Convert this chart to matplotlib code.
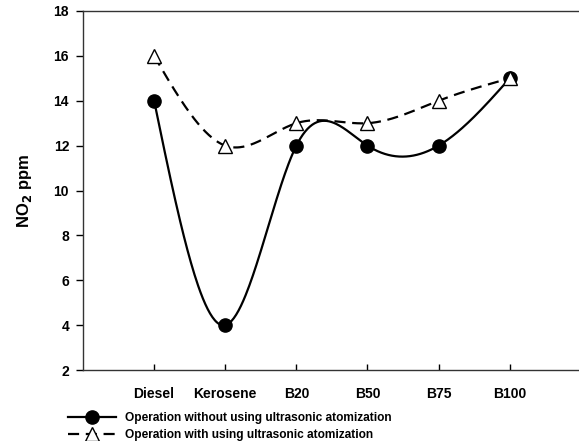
import numpy as np
import matplotlib
matplotlib.use("Agg")
import matplotlib.pyplot as plt
from matplotlib.lines import Line2D

plt.rcParams['font.family'] = ['Liberation Sans', 'DejaVu Sans']
plt.rcParams['font.weight'] = 'bold'

fuels = ["Diesel", "Kerosene", "B20", "B50", "B75", "B100"]
no2_without = [14, 4, 12, 12, 12, 15]
no2_with = [16, 12, 13, 13, 14, 15]
y_ticks = [2, 4, 6, 8, 10, 12, 14, 16, 18]


def natural_spline(x, y, n=300):
    x = np.asarray(x, float)
    y = np.asarray(y, float)
    k = len(x)
    h = np.diff(x)
    A = np.zeros((k, k))
    b = np.zeros(k)
    A[0, 0] = A[-1, -1] = 1
    for i in range(1, k - 1):
        A[i, i - 1] = h[i - 1]
        A[i, i] = 2 * (h[i - 1] + h[i])
        A[i, i + 1] = h[i]
        b[i] = 6 * ((y[i + 1] - y[i]) / h[i] - (y[i] - y[i - 1]) / h[i - 1])
    M = np.linalg.solve(A, b)
    xs = np.linspace(x[0], x[-1], n)
    idx = np.clip(np.searchsorted(x, xs) - 1, 0, k - 2)
    x0, x1 = x[idx], x[idx + 1]
    hh = x1 - x0
    ys = (M[idx] * (x1 - xs) ** 3 / (6 * hh) + M[idx + 1] * (xs - x0) ** 3 / (6 * hh)
          + (y[idx] / hh - M[idx] * hh / 6) * (x1 - xs)
          + (y[idx + 1] / hh - M[idx + 1] * hh / 6) * (xs - x0))
    return xs, ys


fig = plt.figure(figsize=(5.79, 4.41), dpi=100)
ax = fig.add_axes([83 / 579, 1 - 370 / 441, (583 - 83) / 579, (370 - 11) / 441])

pos = np.arange(1, len(fuels) + 1)
dash = (0, (5, 3))

xs, ys = natural_spline(pos, no2_without)
ax.plot(xs, ys, color='black', lw=1.6, zorder=2)
ax.plot(pos, no2_without, 'o', color='black', ms=9.5, zorder=3)

xs, ys = natural_spline(pos, no2_with)
ax.plot(xs, ys, color='black', lw=1.6, ls=dash, zorder=2)
ax.plot(pos, no2_with, '^', mfc='white', mec='black', mew=1.0, ms=10, zorder=4)

ax.set_xlim(0, 7.03)
ax.set_ylim(2, 18)
ax.set_yticks(y_ticks)
ax.set_xticks(pos)
ax.set_xticklabels(fuels)
ax.tick_params(axis='x', direction='in', length=4, width=1, labelsize=10, pad=12)
ax.tick_params(axis='y', direction='out', length=5, width=1, labelsize=10, pad=5)
for sp in ax.spines.values():
    sp.set_linewidth(1.0)
    sp.set_color('#333333')

ax.set_ylabel("NO$_2$ ppm", fontsize=12, fontweight='bold', labelpad=14)

handles = [
    Line2D([], [], color='black', lw=1.6, marker='o', ms=9.5),
    Line2D([], [], color='black', lw=1.6, ls=dash, marker='^',
           mfc='white', mec='black', mew=1.0, ms=10),
]
labels = ["Operation without using ultrasonic atomization",
          "Operation with using ultrasonic atomization"]
fig.legend(handles, labels, loc='upper left', bbox_to_anchor=(68 / 579, 1 - 412 / 441),
           frameon=False, fontsize=8.6, handlelength=4.0, handletextpad=0.75,
           labelspacing=0.4, borderaxespad=0, borderpad=0)

fig.savefig("out.png", dpi=100)
